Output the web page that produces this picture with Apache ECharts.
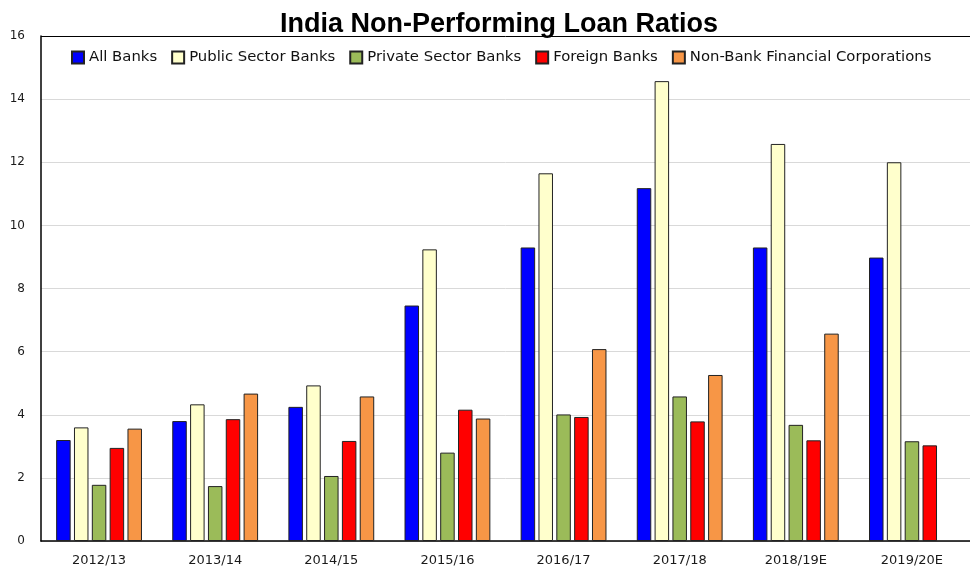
<!DOCTYPE html>
<html>
<head>
<meta charset="utf-8">
<script src="https://cdn.jsdelivr.net/npm/echarts@6/dist/echarts.min.js"></script>
<style>
  html, body { margin: 0; padding: 0; background: #fff; }
  #chart { width: 970px; height: 570px; }
</style>
</head>
<body>
<div id="chart"></div>
<script>
// Fiscal years on the category axis
const years = ['2012/13', '2013/14', '2014/15', '2015/16', '2016/17', '2017/18', '2018/19E', '2019/20E'];

// Non-performing loan ratios, percent
const allBanks        = [3.2, 3.8, 4.25, 7.46, 9.3, 11.18, 9.3, 8.98];
const publicBanks     = [3.6, 4.33, 4.93, 9.24, 11.65, 14.57, 12.58, 12.0];
const privateBanks    = [1.78, 1.74, 2.06, 2.8, 4.01, 4.58, 3.68, 3.16];
const foreignBanks    = [2.95, 3.86, 3.17, 4.16, 3.93, 3.79, 3.19, 3.03];
const nbfcs           = [3.56, 4.67, 4.58, 3.88, 6.08, 5.26, 6.57, null];

const seriesNames = ['All Banks', 'Public Sector Banks', 'Private Sector Banks', 'Foreign Banks', 'Non-Bank Financial Corporations'];
const seriesColors = ['#0000ff', '#ffffcc', '#9bbb59', '#ff0000', '#f79646'];
const seriesData = [allBanks, publicBanks, privateBanks, foreignBanks, nbfcs];

// Value-axis ticks
const yTicks = [0, 2, 4, 6, 8, 10, 12, 14, 16];

const FONT = 'DejaVu Sans';

const chart = echarts.init(document.getElementById('chart'), null, { renderer: 'canvas' });

// Gridlines are light grey; the top one doubles as the plot frame
const splitColors = yTicks.map((t, i) => i === yTicks.length - 1 ? '#000000' : '#d9d9d9');

chart.setOption({
  backgroundColor: '#ffffff',
  animation: false,
  title: {
    text: 'India Non-Performing Loan Ratios',
    left: 275,
    top: 6,
    textStyle: {
      fontFamily: 'Liberation Sans',
      fontWeight: 'bold',
      fontSize: 27,
      color: '#000'
    }
  },
  legend: {
    left: 66,
    top: 45,
    itemWidth: 12,
    itemHeight: 12,
    itemGap: 14,
    icon: 'rect',
    textStyle: { fontFamily: FONT, fontSize: 14.85, color: '#111' },
    data: seriesNames
  },
  grid: {
    left: 41,
    right: -6,
    top: 36,
    bottom: 29,
    containLabel: false
  },
  xAxis: {
    type: 'category',
    data: years,
    axisLine: { show: true, lineStyle: { color: '#000', width: 1.5 } },
    axisTick: { show: false },
    axisLabel: { fontFamily: FONT, fontSize: 13, color: '#1a1a1a', margin: 13, interval: 0 },
    splitLine: { show: false }
  },
  yAxis: {
    type: 'value',
    min: 0,
    max: 16,
    interval: 2,
    axisLine: { show: true, lineStyle: { color: '#000', width: 1.5 } },
    axisTick: { show: false },
    axisLabel: { fontFamily: FONT, fontSize: 12, color: '#1a1a1a', margin: 16 },
    splitLine: { show: true, lineStyle: { color: splitColors, width: 1 } }
  },
  series: seriesNames.map((name, i) => ({
    name: name,
    type: 'bar',
    data: seriesData[i],
    barWidth: 14.5,
    barGap: '23%',
    itemStyle: {
      color: seriesColors[i],
      borderColor: '#222',
      borderWidth: 1
    }
  }))
});
</script>
</body>
</html>
